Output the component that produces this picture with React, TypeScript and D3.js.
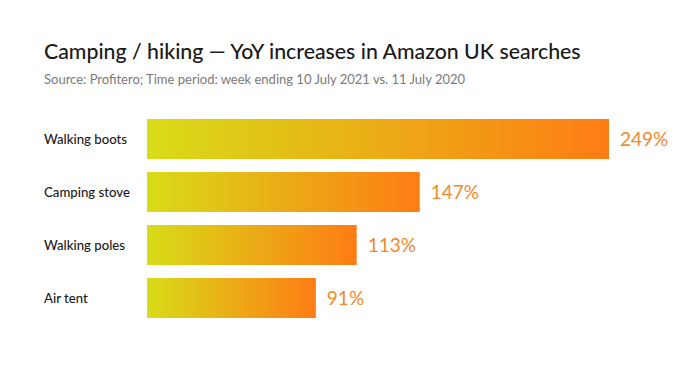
import React from 'react';
import * as d3 from 'd3';

const categories = ['Walking boots', 'Camping stove', 'Walking poles', 'Air tent'];
const values = [249, 147, 113, 91];

const title = 'Camping / hiking \u2014 YoY increases in Amazon UK searches';
const subtitle = 'Source: Profitero; Time period: week ending 10 July 2021 vs. 11 July 2020';

const App: React.FC = () => {
  const width = 700;
  const height = 365;
  const font = 'Lato, "Noto Sans", sans-serif';

  const x = d3.scaleLinear([0, 249], [147, 609]);
  const y = d3
    .scaleBand<string>()
    .domain(categories)
    .range([119, 318])
    .paddingInner(13 / 53)
    .paddingOuter(0);

  return (
    <svg
      width={width}
      height={height}
      style={{ position: 'absolute', left: 0, top: 0, background: '#fff' }}
    >
      <defs>
        {categories.map((c, i) => (
          <linearGradient key={c} id={`grad${i}`} x1="0" x2="1" y1="0" y2="0">
            <stop offset="0%" stopColor="#d8dc18" />
            <stop offset="100%" stopColor="#fe7c14" />
          </linearGradient>
        ))}
      </defs>
      <text x={44} y={59} fontFamily={font} fontSize={21.3} fontWeight={500} fill="#1a1a1a">
        {title}
      </text>
      <text x={44} y={84} fontFamily={font} fontSize={13} fill="#7a7a7a">
        {subtitle}
      </text>
      {categories.map((c, i) => {
        const by = y(c) as number;
        const bh = y.bandwidth();
        return (
          <g key={c}>
            <text
              x={44}
              y={by + bh / 2}
              dy="0.35em"
              fontFamily={font}
              fontSize={13.2}
              fontWeight={500}
              fill="#1a1a1a"
            >
              {c}
            </text>
            <rect
              x={x(0)}
              y={by}
              width={x(values[i]) - x(0)}
              height={bh}
              fill={`url(#grad${i})`}
            />
            <text
              x={x(values[i]) + 11}
              y={by + bh / 2}
              dy="0.36em"
              fontFamily={font}
              fontSize={19}
              fill="#ef8a2a"
            >
              {values[i]}%
            </text>
          </g>
        );
      })}
    </svg>
  );
};

export default App;
